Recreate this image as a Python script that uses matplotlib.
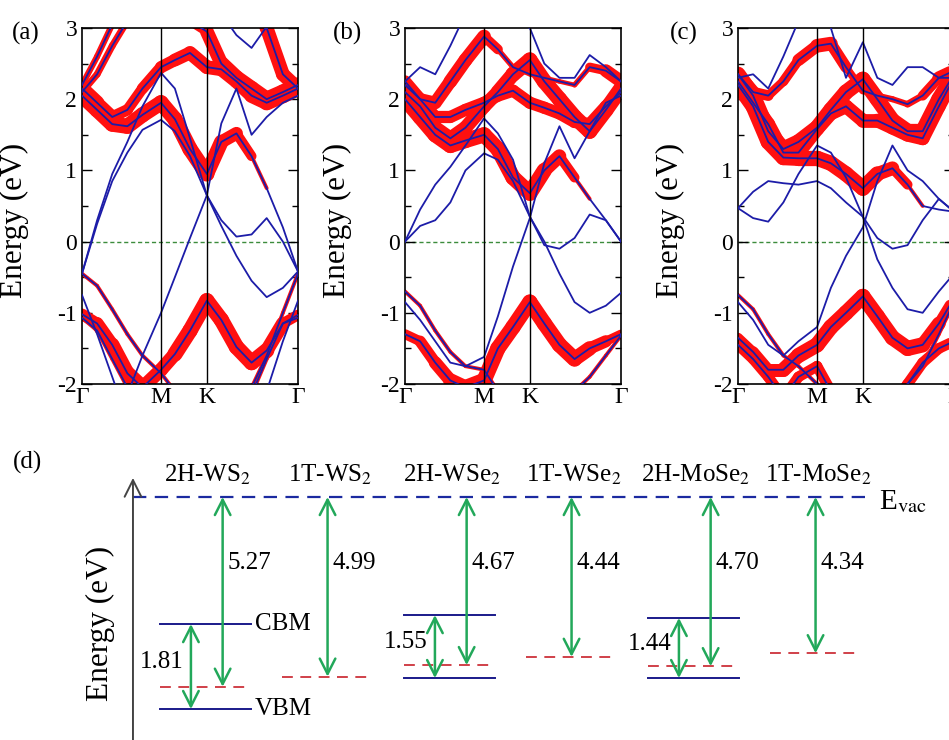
import numpy as np
import matplotlib
matplotlib.use("Agg")
import matplotlib.pyplot as plt
from matplotlib.collections import LineCollection
from matplotlib.ticker import MultipleLocator

plt.rcParams['font.family'] = ['Liberation Serif', 'DejaVu Serif']
plt.rcParams['mathtext.fontset'] = 'stix'
plt.rcParams['axes.unicode_minus'] = False

# k-path G-M-K-G (fraction of the path length)
kpath = [0, .07, .14, .21, .28, .366, .43, .50, .578, .645, .715, .785, .855, .93, 1.0]
kticks = [0, 0.366, 0.578, 1.0]
klabels = ['Γ', 'M', 'K', 'Γ']

# ---- (a) bands: energies (eV) and orbital weight (fat-band size) ----
a_b1 = [-0.45, 0.25, 0.85, 1.25, 1.57, 1.71, 1.55, 1.2, 0.65, 0.3, 0.07, 0.1, 0.33, 0.0, -0.42]
a_b2 = [-0.45, 0.3, 0.95, 1.4, 1.9, 2.37, 2.15, 1.45, 0.65, 0.22, -0.2, -0.55, -0.78, -0.65, -0.42]
a_b3 = [-3.2, -2.9, -2.6, -2.15, -1.6, -1.0, -0.5, 0.05, 0.65, 1.66, 2.15, 1.5, 1.75, 1.95, 2.05]
a_b4 = [3.6, 3.6, 3.6, 3.6, 3.6, 3.6, 3.6, 3.6, 3.6, 3.2, 2.9, 2.72, 3.02, 3.5, 3.6]
a_cb1 = [2.05, 1.85, 1.65, 1.62, 1.78, 1.95, 1.72, 1.3, 0.95, 1.4, 1.52, 1.2, 0.75, 0.2, -0.42]
a_cb1_w = [1, 1, 1, 1, 1, 1, 1, 1, 1, .9, .8, .5, 0, 0, 0]
a_cb2 = [2.15, 1.95, 1.75, 1.85, 2.15, 2.45, 2.55, 2.65, 2.45, 2.42, 2.25, 2.05, 1.95, 2.05, 2.15]
a_cb2_w = [1, .9, .8, .7, .7, .8, .8, .9, .9, .9, .9, .9, 1, 1, 1]
a_cb3 = [2.1, 2.35, 2.75, 3.1, 3.4, 3.5, 3.3, 3.1, 2.95, 2.5, 2.3, 2.15, 2.0, 2.1, 2.2]
a_cb3_w = [.45, .45, .45, .45, .45, .45, .45, .45, .8, 1, 1, 1, 1, 1, 1]
a_cb4 = [2.2, 2.6, 3.05, 3.5, 3.8, 3.9, 3.9, 3.9, 3.9, 3.9, 3.8, 3.5, 3.0, 2.35, 2.15]
a_cb4_w = [.4, .4, .4, .4, .4, .4, .4, .4, .4, .6, .9, .9, .9, .9, .9]
a_vb1 = [-1.02, -1.15, -1.45, -1.85, -2.05, -1.8, -1.58, -1.25, -0.83, -1.1, -1.48, -1.7, -1.53, -1.15, -1.03]
a_vb1_w = [.7, .8, .9, 1, 1, .8, 1, 1, 1, 1, 1, 1, 1, .8, .6]
a_vb2 = [-0.45, -0.62, -0.95, -1.3, -1.6, -1.85, -2.1, -2.4, -2.6, -2.5, -2.3, -2.05, -1.6, -1.0, -0.45]
a_vb3 = [-0.75, -1.3, -1.9, -2.5, -3, -3, -3, -3, -3, -3, -2.8, -2.5, -2.1, -1.4, -0.83]
a_vb4 = [-1.07, -1.25, -1.65, -2.05, -2.4, -2.6, -2.8, -2.9, -3.0, -2.9, -2.7, -2.15, -1.65, -1.15, -1.07]

# ---- (b) ----
b_b1 = [0, 0.45, 0.8, 1.05, 1.35, 1.73, 1.52, 1.15, 0.35, -0.05, -0.1, 0.05, 0.38, 0.3, 0.0]
b_b2 = [0, 0.22, 0.3, 0.55, 1.0, 1.24, 1.15, 0.85, 0.35, 0.0, -0.45, -0.85, -1.0, -0.9, -0.72]
b_b3 = [-0.85, -1.1, -1.4, -1.7, -1.75, -1.62, -1.05, -0.35, 0.33, 1.1, 1.62, 1.17, 1.55, 1.95, 2.05]
b_b4 = [2.25, 2.45, 2.35, 2.75, 3.2, 3.6, 3.4, 3.1, 3.0, 2.5, 2.3, 2.3, 2.62, 2.45, 2.25]
b_cb1 = [2.0, 1.75, 1.5, 1.35, 1.42, 1.5, 1.3, 0.9, 0.68, 1.0, 1.2, 0.9, 0.6, 0.3, 0.0]
b_cb1_w = [1, 1, 1, 1, 1, 1, 1, 1, 1, 1, .8, .5, 0, 0, 0]
b_cb2 = [2.1, 1.9, 1.6, 1.45, 1.6, 1.9, 2.1, 2.35, 2.55, 2.25, 2.0, 1.75, 1.55, 1.85, 2.15]
b_cb2_w = [1, .9, .9, .9, .9, .9, .9, 1, 1, 1, 1, 1, 1, 1, 1]
b_cb3 = [2.25, 2.0, 1.75, 1.75, 1.85, 1.95, 2.05, 2.12, 1.95, 1.88, 1.8, 1.68, 1.65, 1.9, 2.1]
b_cb3_w = [.8] * 15
b_cb4 = [2.2, 2.0, 1.95, 2.25, 2.55, 2.88, 2.7, 2.45, 2.35, 2.3, 2.25, 2.2, 2.45, 2.4, 2.25]
b_cb4_w = [.8, .8, .8, .9, .9, .9, .4, .3, .3, .3, .3, .3, .4, .8, .9]
b_vb1 = [-1.3, -1.4, -1.7, -1.95, -2.05, -1.95, -1.5, -1.2, -0.85, -1.15, -1.45, -1.65, -1.5, -1.4, -1.3]
b_vb1_w = [.6, .7, .8, .9, 1, 1, 1, 1, 1, 1, 1, 1, .9, .7, .5]
b_vb2 = [-0.7, -0.9, -1.25, -1.55, -1.75, -1.8, -2.1, -2.3, -2.5, -2.4, -2.3, -2.1, -1.9, -1.6, -1.32]

# ---- (c) ----
c_b1 = [0.47, 0.7, 0.85, 0.82, 0.8, 0.85, 0.75, 0.55, 0.35, 0.05, -0.1, -0.05, 0.3, 0.6, 0.42]
c_b2 = [0.47, 0.33, 0.28, 0.55, 0.95, 1.35, 1.25, 0.9, 0.35, -0.25, -0.65, -0.95, -1.0, -0.7, -0.45]
c_b3 = [-0.85, -1.1, -1.45, -1.6, -1.4, -1.2, -0.65, -0.2, 0.2, 0.85, 1.35, 1.0, 0.85, 0.6, 0.42]
c_b4 = [2.3, 2.35, 2.15, 2.6, 3.1, 3.5, 3.0, 2.3, 2.8, 2.3, 2.2, 2.45, 2.45, 2.3, 2.3]
c_cb1 = [2.2, 1.9, 1.4, 1.18, 1.17, 1.17, 1.1, 0.95, 0.75, 0.95, 1.03, 0.8, 0.5, 0.45, 0.42]
c_cb1_w = [1, 1, 1, 1, 1, 1, 1, 1, 1, 1, .8, .5, 0, 0, 0]
c_cb2 = [2.35, 2.05, 1.55, 1.3, 1.4, 1.6, 1.85, 2.1, 2.28, 2.0, 1.7, 1.55, 1.55, 2.0, 2.35]
c_cb2_w = [1] * 15
c_cb3 = [2.35, 2.1, 2.05, 2.25, 2.55, 2.75, 2.78, 2.45, 2.12, 2.05, 2.0, 1.93, 2.05, 2.3, 2.4]
c_cb3_w = [.9, .8, .6, .6, .7, .9, .9, .6, .4, .4, .4, .4, .5, .8, .9]
c_cb4 = [2.25, 1.95, 1.65, 1.25, 1.25, 1.58, 1.8, 1.9, 1.7, 1.7, 1.6, 1.5, 1.45, 1.9, 2.3]
c_cb4_w = [.9] * 15
c_vb1 = [-1.35, -1.55, -1.8, -1.8, -1.6, -1.45, -1.2, -1.0, -0.77, -1.05, -1.35, -1.5, -1.45, -1.15, -0.8]
c_vb1_w = [.6, .7, .8, .9, 1, 1, 1, 1, 1, 1, 1, 1, 1, .8, .6]
c_vb2 = [-0.75, -0.95, -1.3, -1.6, -1.75, -2.0, -2.3, -2.5, -2.6, -2.5, -2.3, -2.0, -1.75, -1.3, -0.85]
c_vb3 = [-1.45, -1.65, -1.9, -2.2, -1.9, -1.75, -2.1, -2.5, -2.8, -2.6, -2.3, -2.0, -1.7, -1.5, -1.4]
c_vb3_w = [.7] * 15

thin = [0.25] * 15
none = [0] * 15

panels = [
    ('(a)', [(a_b1, none), (a_b2, none), (a_b3, none), (a_b4, none), (a_cb1, a_cb1_w), (a_cb2, a_cb2_w),
             (a_cb3, a_cb3_w), (a_cb4, a_cb4_w), (a_vb1, a_vb1_w), (a_vb2, thin), (a_vb3, none), (a_vb4, thin)]),
    ('(b)', [(b_b1, none), (b_b2, none), (b_b3, none), (b_b4, none), (b_cb1, b_cb1_w), (b_cb2, b_cb2_w),
             (b_cb3, b_cb3_w), (b_cb4, b_cb4_w), (b_vb1, b_vb1_w), (b_vb2, thin)]),
    ('(c)', [(c_b1, none), (c_b2, none), (c_b3, none), (c_b4, none), (c_cb1, c_cb1_w), (c_cb2, c_cb2_w),
             (c_cb3, c_cb3_w), (c_cb4, c_cb4_w), (c_vb1, c_vb1_w), (c_vb2, thin), (c_vb3, c_vb3_w)]),
]

# ---- (d) band alignment ----
materials = ['2H-WS$_2$', '1T-WS$_2$', '2H-WSe$_2$', '1T-WSe$_2$', '2H-MoSe$_2$', '1T-MoSe$_2$']
work_fn = [5.27, 4.99, 4.67, 4.44, 4.70, 4.34]
cbm = [-3.53, None, -3.28, None, -3.36, None]
vbm = [-5.89, None, -5.03, None, -5.03, None]
gap = [1.81, None, 1.55, None, 1.44, None]

blue = '#1c1ca8'
red = '#ff1010'
green = '#22a85a'

W, H = 949, 740
fig = plt.figure(figsize=(W / 100, H / 100), dpi=100)


def draw_band(ax, e, w):
    e = np.array(e, float)
    w = np.array(w, float)
    pts = np.column_stack([kpath, e])
    segs = np.stack([pts[:-1], pts[1:]], axis=1)
    lw = (w[:-1] + w[1:]) / 2 * 11
    keep = lw > 0.3
    if keep.any():
        lc = LineCollection(segs[keep], linewidths=lw[keep], colors=red,
                            capstyle='round', joinstyle='round', zorder=2)
        ax.add_collection(lc)
    ax.plot(kpath, e, color=blue, lw=1.3, zorder=3)


lefts = [82, 405, 738]
plabel_x = [26, 348, 684]
for (tag, bands), left in zip(panels, lefts):
    ax = fig.add_axes([left / W, 1 - 384 / H, 216 / W, 356 / H])
    for e, w in bands:
        draw_band(ax, e, w)
    ax.set_xlim(0, 1)
    ax.set_ylim(-2, 3)
    ax.set_xticks(kticks, klabels)
    ax.set_yticks(range(-2, 4))
    ax.yaxis.set_minor_locator(MultipleLocator(0.5))
    ax.tick_params(axis='y', which='both', direction='in', left=True, right=True, labelsize=17)
    ax.tick_params(axis='y', which='major', length=7, width=1)
    ax.tick_params(axis='y', which='minor', length=4, width=1)
    ax.tick_params(axis='x', length=0, labelsize=17, pad=2)
    for x in kticks[1:3]:
        ax.axvline(x, color='k', lw=1, zorder=4)
    ax.axhline(0, color='#3c8c3c', lw=1, ls=(0, (3, 2)), zorder=1)
    for s in ax.spines.values():
        s.set_linewidth(1.2)
    ax.set_ylabel('Energy (eV)', fontsize=22.5)
    ax.yaxis.set_label_coords(-0.245, 0.46)

for tag, x in zip(['(a)', '(b)', '(c)'], plabel_x):
    fig.text(x / W, 1 - 33 / H, tag, ha='center', va='center', fontsize=18)

# lower panel: x in material index units, y in eV below vacuum
axd = fig.add_axes([0, 0, 1, 300 / H])
axd.set_xlim(-208 / 122, (W - 208) / 122)
axd.set_ylim(-6.75, 1.583)
axd.axis('off')

arrow_kw = dict(arrowstyle='<->,head_length=0.55,head_width=0.28', color=green, lw=1.8,
                shrinkA=0, shrinkB=0, mutation_scale=20)

axd.plot([-0.615, 5.40], [0, 0], color='#1b2aa0', lw=1.6, ls=(0, (6, 3.8)))
axd.text(5.50, -0.12, r'E$_{\rm vac}$', ha='left', va='center', fontsize=21)
axd.annotate('', xy=(-0.615, 0.53), xytext=(-0.615, -7.0),
             arrowprops=dict(arrowstyle='->,head_length=0.6,head_width=0.3', color='#444444',
                             lw=1.4, shrinkA=0, shrinkB=0, mutation_scale=20))
axd.text(-0.885, -3.5, 'Energy (eV)', rotation=90, ha='center', va='center', fontsize=22.5)
fig.text(28 / W, 1 - 462 / H, '(d)', ha='center', va='center', fontsize=18)

for i, name in enumerate(materials):
    axd.text(i, 0.61, name, ha='center', va='center', fontsize=18)
    xa = i + (0.12 if cbm[i] is not None else -0.02)
    axd.plot([i - 0.39, i + 0.35], [-work_fn[i]] * 2, color='#c8202a', lw=1.2, ls=(0, (6.5, 4.5)))
    axd.annotate('', xy=(xa, -work_fn[i]), xytext=(xa, 0), arrowprops=arrow_kw)
    axd.text(xa + 0.04, -1.83, f'{work_fn[i]:.2f}', ha='left', va='center', fontsize=18)
    if cbm[i] is not None:
        axd.plot([i - 0.39, i + 0.35], [cbm[i]] * 2, color='#1a1a8a', lw=1.4)
        axd.plot([i - 0.39, i + 0.35], [vbm[i]] * 2, color='#1a1a8a', lw=1.4)
        xg = i - 0.14
        axd.annotate('', xy=(xg, vbm[i]), xytext=(xg, cbm[i]), arrowprops=arrow_kw)
        axd.text(xg - 0.06, (cbm[i] + vbm[i]) / 2 + 0.12, f'{gap[i]:.2f}',
                 ha='right', va='center', fontsize=18)

axd.text(0.385, cbm[0], 'CBM', ha='left', va='center', fontsize=18)
axd.text(0.385, vbm[0], 'VBM', ha='left', va='center', fontsize=18)

fig.savefig('out.png', dpi=100)
